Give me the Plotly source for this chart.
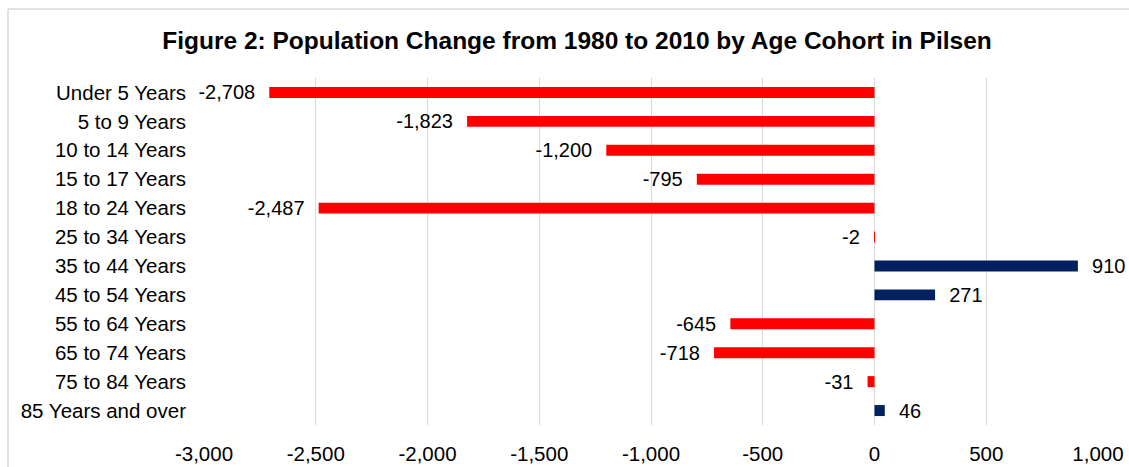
import plotly.graph_objects as go

# Age cohorts, top to bottom as shown
cohorts = [
    "Under 5 Years", "5 to 9 Years", "10 to 14 Years", "15 to 17 Years",
    "18 to 24 Years", "25 to 34 Years", "35 to 44 Years", "45 to 54 Years",
    "55 to 64 Years", "65 to 74 Years", "75 to 84 Years", "85 Years and over",
]
change = [-2708, -1823, -1200, -795, -2487, -2, 910, 271, -645, -718, -31, 46]

x_ticks = [-3000, -2500, -2000, -1500, -1000, -500, 0, 500, 1000]
x_tick_text = [f"{v:,}" for v in x_ticks]

RED = "#FF0000"
NAVY = "#002060"
FONT = "Liberation Sans, Arial, sans-serif"
NBSP = "\u00a0"

bar_colors = [NAVY if v > 0 else RED for v in change]
# pad the label on the side facing the bar, like Excel's label offset
labels = [(NBSP * 2 + f"{v:,}") if v > 0 else (f"{v:,}" + NBSP * 2) for v in change]

fig = go.Figure(go.Bar(
    x=change,
    y=cohorts,
    orientation="h",
    marker=dict(color=bar_colors, line=dict(width=0)),
    width=0.38,
    text=labels,
    texttemplate="%{text}",
    textposition="outside",
    constraintext="none",
    textfont=dict(family=FONT, size=20, color="#000000"),
    cliponaxis=False,
    hoverinfo="skip",
))

fig.update_layout(
    width=1129,
    height=467,
    paper_bgcolor="white",
    plot_bgcolor="white",
    showlegend=False,
    font=dict(family=FONT, size=20.5, color="#000000"),
    title=dict(
        text="<b>Figure 2: Population Change from 1980 to 2010 by Age Cohort in Pilsen</b>",
        font=dict(family=FONT, size=24.5, color="#000000"),
        x=577 / 1129, xanchor="center",
        y=1 - 40 / 467, yanchor="middle",
    ),
    margin=dict(l=204, r=31, t=78, b=42, autoexpand=False),
    xaxis=dict(
        range=[-3000, 1000],
        tickvals=x_ticks,
        ticktext=x_tick_text,
        showgrid=True,
        gridcolor="#d9d9d9",
        gridwidth=1,
        zeroline=False,
        showline=False,
        ticks="",
        ticklabelstandoff=14,
        automargin=False,
        fixedrange=True,
    ),
    yaxis=dict(
        categoryorder="array",
        categoryarray=cohorts,
        autorange="reversed",
        showgrid=False,
        zeroline=False,
        showline=False,
        ticks="",
        ticklabelstandoff=17,
        automargin=False,
        fixedrange=True,
    ),
    shapes=[
        # outer chart frame: only the top and left edges are in view
        dict(type="line", xref="paper", yref="paper",
             x0=-196 / 894, x1=1 + 40 / 894, y0=1 + 69 / 347, y1=1 + 69 / 347,
             line=dict(color="#d9d9d9", width=1.5), layer="below"),
        dict(type="line", xref="paper", yref="paper",
             x0=-196 / 894, x1=-196 / 894, y0=-1, y1=1 + 69 / 347,
             line=dict(color="#d9d9d9", width=1.5), layer="below"),
    ],
)

# drop the browser's default body margin so the figure sits at the page origin
fig.write_html(
    "out.html",
    config={"displayModeBar": False},
    post_script="document.body.style.margin = '0';",
)
